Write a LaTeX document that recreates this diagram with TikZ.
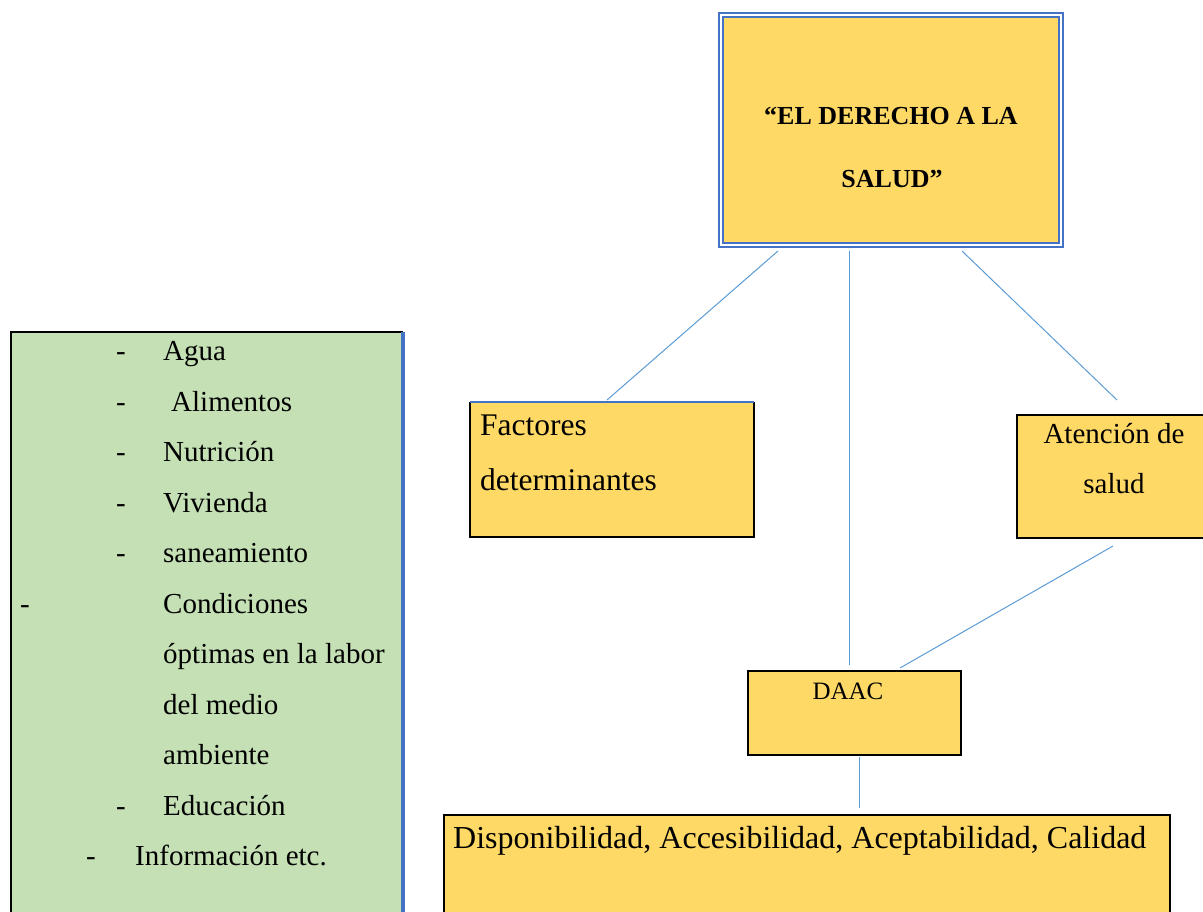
\documentclass[tikz,border=0pt]{standalone}
\usepackage{fontspec}
\setmainfont{Liberation Serif}
\usetikzlibrary{calc}
\definecolor{boxyellow}{HTML}{FFD966}
\definecolor{boxgreen}{HTML}{C5E0B4}
\definecolor{edgeblue}{HTML}{4472C4}
\definecolor{linkblue}{HTML}{5B9BD5}
\begin{document}
\begin{tikzpicture}[x=1pt,y=-1pt,
  box/.style={rectangle, inner sep=0pt, outer sep=0pt, anchor=north west},
  link/.style={draw=linkblue, line width=1pt},
  listtxt/.style={inner sep=0pt, anchor=base west, font=\fontsize{29}{35}\selectfont},
  bigtxt/.style={inner sep=0pt, font=\fontsize{31.5}{38}\selectfont},
]
\useasboundingbox (0,0) rectangle (1203,911);

% title box (double blue border)
\node[box, draw=edgeblue, line width=1.6pt, fill=white, minimum width=344, minimum height=234] (titleout) at (719,13) {};
\node[box, draw=edgeblue, line width=1.6pt, fill=boxyellow, minimum width=336, minimum height=226] (title) at (723,17) {};
\node[inner sep=0pt, anchor=base, font=\bfseries\fontsize{26}{31}\selectfont] (t1) at (891,124) {“EL DERECHO A LA};
\node[inner sep=0pt, anchor=base, font=\bfseries\fontsize{26}{31}\selectfont] (t2) at (892,187) {SALUD”};

% left green list box
\node[box, fill=boxgreen, minimum width=392, minimum height=600] (list) at (11,332) {};
\draw[black, line width=2.5pt] (list.south west) -- (list.north west) -- (list.north east);
\draw[edgeblue, line width=3.5pt] (list.north east) -- (list.south east);

\node[listtxt] (d1) at (116,360) {-};  \node[listtxt] (i1) at (163,360) {Agua};
\node[listtxt] (d2) at (116,411) {-};  \node[listtxt] (i2) at (171,411) {Alimentos};
\node[listtxt] (d3) at (116,461) {-};  \node[listtxt] (i3) at (163,461) {Nutrición};
\node[listtxt] (d4) at (116,512) {-};  \node[listtxt] (i4) at (163,512) {Vivienda};
\node[listtxt] (d5) at (116,562) {-};  \node[listtxt] (i5) at (163,562) {saneamiento};
\node[listtxt] (d6) at (20,613) {-};   \node[listtxt] (i6) at (163,613) {Condiciones};
\node[listtxt] (i7) at (163,663) {óptimas en la labor};
\node[listtxt] (i8) at (163,714) {del medio};
\node[listtxt] (i9) at (163,764) {ambiente};
\node[listtxt] (d10) at (116,815) {-}; \node[listtxt] (i10) at (163,815) {Educación};
\node[listtxt] (d11) at (86,865) {-};  \node[listtxt] (i11) at (135,865) {Información etc.};

% Factores box
\node[box, fill=boxyellow, minimum width=284, minimum height=135] (fact) at (470,402) {};
\draw[black, line width=2pt] (fact.north west) -- (fact.south west) -- (fact.south east) -- (fact.north east);
\draw[edgeblue, line width=2pt] (fact.north west) -- (fact.north east);
\node[bigtxt, anchor=base west] (f1) at (480,435) {Factores};
\node[bigtxt, anchor=base west] (f2) at (480,490) {determinantes};

% Atencion box
\node[box, draw=black, line width=2pt, fill=boxyellow, minimum width=200, minimum height=123] (aten) at (1017,415) {};
\node[inner sep=0pt, anchor=base, font=\fontsize{29}{35}\selectfont] (a1) at (1114,443) {Atención de};
\node[inner sep=0pt, anchor=base, font=\fontsize{29}{35}\selectfont] (a2) at (1114,493) {salud};

% DAAC box
\node[box, draw=black, line width=2pt, fill=boxyellow, minimum width=213, minimum height=84] (daac) at (748,671) {};
\node[inner sep=0pt, anchor=base, font=\fontsize{25}{30}\selectfont] (dt) at (848,699) {DAAC};

% Disponibilidad box
\node[box, draw=black, line width=2pt, fill=boxyellow, minimum width=726, minimum height=120] (disp) at (444,815) {};
\node[inner sep=0pt, anchor=base west, font=\fontsize{32}{38}\selectfont] (dispt) at (453,848) {Disponibilidad, Accesibilidad, Aceptabilidad, Calidad};

% connectors
\draw[link] ($(title.south west)+(55,8)$) -- ($(fact.north west)+(137,-2)$);
\draw[link] ($(title.south west)+(126,8)$) -- ($(daac.north west)+(101,-6)$);
\draw[link] ($(title.south west)+(239,8)$) -- ($(aten.north west)+(100,-15)$);
\draw[link] ($(aten.south west)+(96,8)$) -- ($(daac.north west)+(152,-3)$);
\draw[link] ($(daac.south west)+(111,2)$) -- ($(disp.north west)+(415,-7)$);
\end{tikzpicture}
\end{document}
